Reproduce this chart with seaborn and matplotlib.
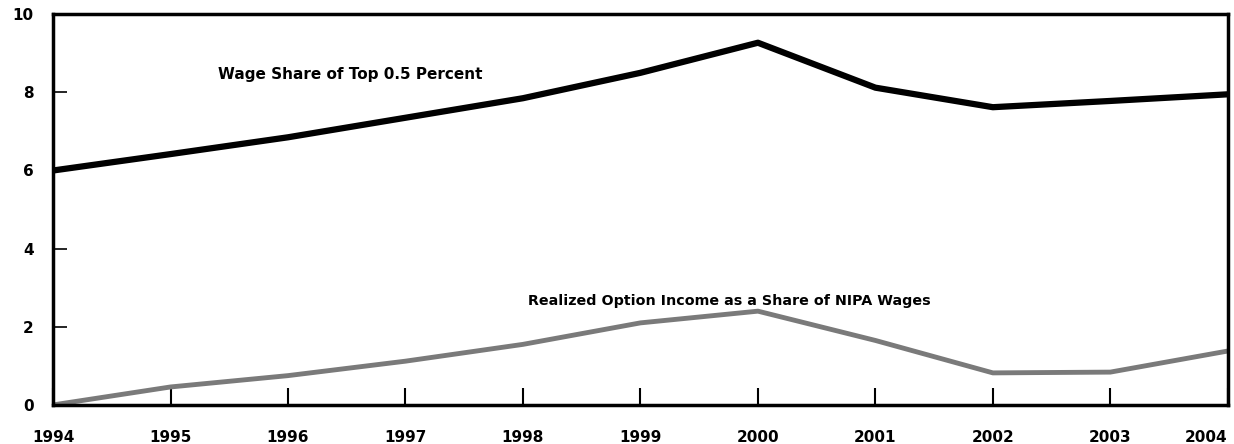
import pandas as pd
import numpy as np
import matplotlib.pyplot as plt
import seaborn as sns

sns.set_style('white')
plt.rcParams['font.family'] = ['DejaVu Sans']

years = [1994, 1995, 1996, 1997, 1998, 1999, 2000, 2001, 2002, 2003, 2004]
wage_share = [6.0, 6.42, 6.85, 7.35, 7.85, 8.5, 9.27, 8.12, 7.62, 7.78, 7.95]
option_share = [0.0, 0.46, 0.75, 1.12, 1.55, 2.1, 2.4, 1.65, 0.82, 0.84, 1.38]

data = pd.DataFrame({'year': years, 'wage': wage_share, 'option': option_share})

fig = plt.figure(figsize=(12.34, 4.44), dpi=100)
ax = fig.add_axes([0.043, 0.088, 0.952, 0.880])

sns.lineplot(data=data, x='year', y='wage', color='black', linewidth=4.5, ax=ax)
sns.lineplot(data=data, x='year', y='option', color='#7a7a7a', linewidth=3.5, ax=ax)

ax.set_xlim(1994, 2004)
ax.set_ylim(0, 10)
ax.set_xticks(years)
ax.set_yticks([0, 2, 4, 6, 8, 10])
ax.set_xlabel('')
ax.set_ylabel('')

for s in ax.spines.values():
    s.set_color('black')
    s.set_linewidth(2.5)

ax.tick_params(axis='x', bottom=True, direction='in', length=12, width=1.5, pad=18,
               labelsize=11, colors='black')
ax.tick_params(axis='y', left=True, direction='in', length=10, width=1.2, pad=14,
               labelsize=11, colors='black')
for lab in ax.get_xticklabels() + ax.get_yticklabels():
    lab.set_fontweight('bold')
ax.get_xticklabels()[-1].set_horizontalalignment('right')

ax.text(1995.4, 8.35, 'Wage Share of Top 0.5 Percent', fontsize=11, fontweight='bold',
        color='black')
ax.text(1998.04, 2.55, 'Realized Option Income as a Share of NIPA Wages', fontsize=10.3,
        fontweight='bold', color='black')

fig.savefig('out.png', dpi=100)
